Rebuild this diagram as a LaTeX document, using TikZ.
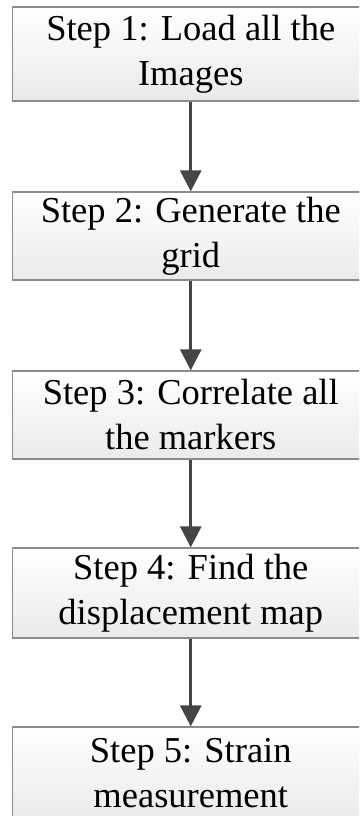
\documentclass[tikz,border=0pt]{standalone}
\usepackage{fontspec}
\setmainfont{Liberation Serif}
\usetikzlibrary{arrows.meta}

\definecolor{boxedge}{HTML}{8C8C8C}
\definecolor{flowarrow}{HTML}{454545}
\definecolor{boxshade}{HTML}{EAEAEA}

\tikzset{
  stepbox/.style={
    draw=boxedge, line width=1.3pt,
    top color=white, bottom color=boxshade,
    rectangle, minimum width=356.5pt, inner sep=0pt,
    align=center,
    font=\fontsize{36.5pt}{45pt}\selectfont
  },
  flowline/.style={
    draw=flowarrow, line width=3pt,
    -{Triangle[width=21pt,length=21pt]}
  }
}

\begin{document}
\begin{tikzpicture}[x=1pt,y=-1pt]
  \useasboundingbox (0,0) rectangle (359,816);
  \clip (0,0) rectangle (359,816);

  % the five processing steps, top to bottom
  \node[stepbox, minimum height=94pt] (s1) at (190.75,54)
    {Step 1: Load all the\\Images};
  \node[stepbox, minimum height=88pt] (s2) at (190.75,236)
    {Step 2: Generate the\\grid};
  \node[stepbox, minimum height=88pt] (s3) at (190.75,415)
    {Step 3: Correlate all\\the markers};
  \node[stepbox, minimum height=90pt] (s4) at (190.75,593)
    {Step 4: Find the\\displacement map};
  \node[stepbox, minimum height=92pt] (s5) at (190.75,773)
    {Step 5: Strain\\measurement};

  % arrows joining consecutive steps
  \draw[flowline] (s1.south) -- (s2.north);
  \draw[flowline] (s2.south) -- (s3.north);
  \draw[flowline] (s3.south) -- (s4.north);
  \draw[flowline] (s4.south) -- (s5.north);
\end{tikzpicture}
\end{document}
